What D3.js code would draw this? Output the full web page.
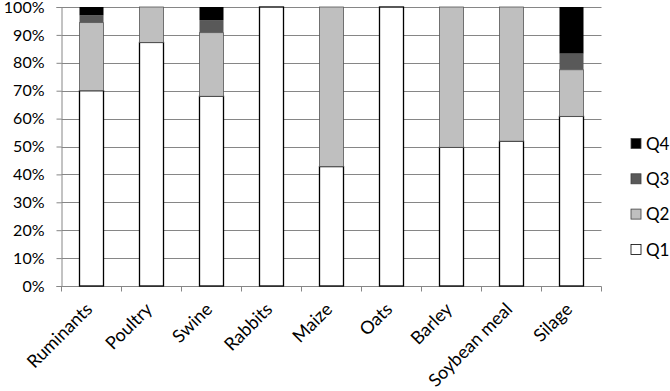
<!DOCTYPE html>
<html><head><meta charset="utf-8">
<script src="https://cdn.jsdelivr.net/npm/d3@7"></script>
<style>body{margin:0;background:#fff}svg text{font-family:Lato,"Open Sans",sans-serif;fill:#000}</style>
</head><body><svg id="c" width="670" height="391"></svg>
<script>
const categories = ["Ruminants","Poultry","Swine","Rabbits","Maize","Oats","Barley","Soybean meal","Silage"];
const seriesNames = ["Q1","Q2","Q3","Q4"];
const q1 = [70, 87.3, 68, 100, 42.8, 100, 49.7, 51.9, 60.8];
const q2 = [24.4, 12.7, 22.8, 0, 57.2, 0, 50.3, 48.1, 16.7];
const q3 = [2.6, 0, 4.5, 0, 0, 0, 0, 0, 5.8];
const q4 = [3.0, 0, 4.7, 0, 0, 0, 0, 0, 16.7];
const yTicks = [0,10,20,30,40,50,60,70,80,90,100];
const colors = {Q1:"#ffffff",Q2:"#bfbfbf",Q3:"#595959",Q4:"#000000"};

const svg = d3.select("#c");
const m = {l:61.5, r:601.5, t:7, b:286};
const x = d3.scaleBand().domain(categories).range([m.l,m.r]).paddingInner(0.6).paddingOuter(0.3);
const xb = d3.scaleBand().domain(categories).range([m.l,m.r]);
const y = d3.scaleLinear().domain([0,100]).range([m.b,m.t]);

const table = categories.map((c,i)=>({cat:c,Q1:q1[i],Q2:q2[i],Q3:q3[i],Q4:q4[i]}));
const stacked = d3.stack().keys(seriesNames)(table);

// gridlines
svg.append("g").selectAll("line").data(yTicks.filter(d=>d>0)).join("line")
  .attr("x1",m.l).attr("x2",m.r).attr("y1",d=>Math.round(y(d))+0.5).attr("y2",d=>Math.round(y(d))+0.5)
  .attr("stroke","#868686").attr("stroke-width",1);

// y axis
const ya = svg.append("g").attr("transform",`translate(${m.l},0)`)
  .call(d3.axisLeft(y).tickValues(yTicks).tickFormat(d=>d+"%").tickSize(5).tickPadding(12));
ya.select(".domain").attr("stroke","#868686");
ya.selectAll(".tick line").attr("stroke","#868686");
ya.selectAll(".tick text").attr("font-size","16px").attr("font-family","Lato");

// x axis
const xa = svg.append("g").attr("transform",`translate(0,${Math.round(m.b)+0.5})`)
  .call(d3.axisBottom(xb).tickSize(0).tickFormat(""));
xa.select(".domain").remove();
xa.append("line").attr("x1",m.l).attr("x2",m.r).attr("stroke","#868686");
const bounds = categories.map(c=>xb(c)).concat([xb(categories[categories.length-1])+xb.bandwidth()]);
xa.selectAll(".bt").data(bounds).join("line").attr("class","bt")
  .attr("x1",d=>d).attr("x2",d=>d).attr("y1",0).attr("y2",5).attr("stroke","#868686");
xa.selectAll(".lbl").data(categories).join("text").attr("class","lbl")
  .attr("transform",d=>`translate(${xb(d)+xb.bandwidth()/2-7},${15}) rotate(-45)`)
  .attr("text-anchor","end").attr("font-size","18px").attr("dy","0.7em").text(d=>d);

// bars
svg.append("g").selectAll("g").data(stacked).join("g")
  .attr("fill",d=>colors[d.key])
  .attr("stroke",d=>d.key==="Q1"?"#000":(d.key==="Q2"?"#555":"none"))
  .attr("stroke-width",d=>d.key==="Q1"?1.3:0.8)
  .selectAll("rect").data(d=>d.filter(p=>p[1]-p[0]>0)).join("rect")
  .attr("x",d=>x(d.data.cat)).attr("width",x.bandwidth())
  .attr("y",d=>y(d[1])).attr("height",d=>y(d[0])-y(d[1]));

// legend
const lg = svg.append("g");
const order = ["Q4","Q3","Q2","Q1"];
order.forEach((k,i)=>{
  const cy = 143.5 + i*35.3;
  lg.append("rect").attr("x",631).attr("y",cy-5).attr("width",10).attr("height",10)
    .attr("fill",colors[k]).attr("stroke",k==="Q1"?"#000":"#404040").attr("stroke-width",0.8);
  lg.append("text").attr("x",646).attr("y",cy).attr("dy","0.36em").attr("font-size","17px").text(k);
});
</script></body></html>
